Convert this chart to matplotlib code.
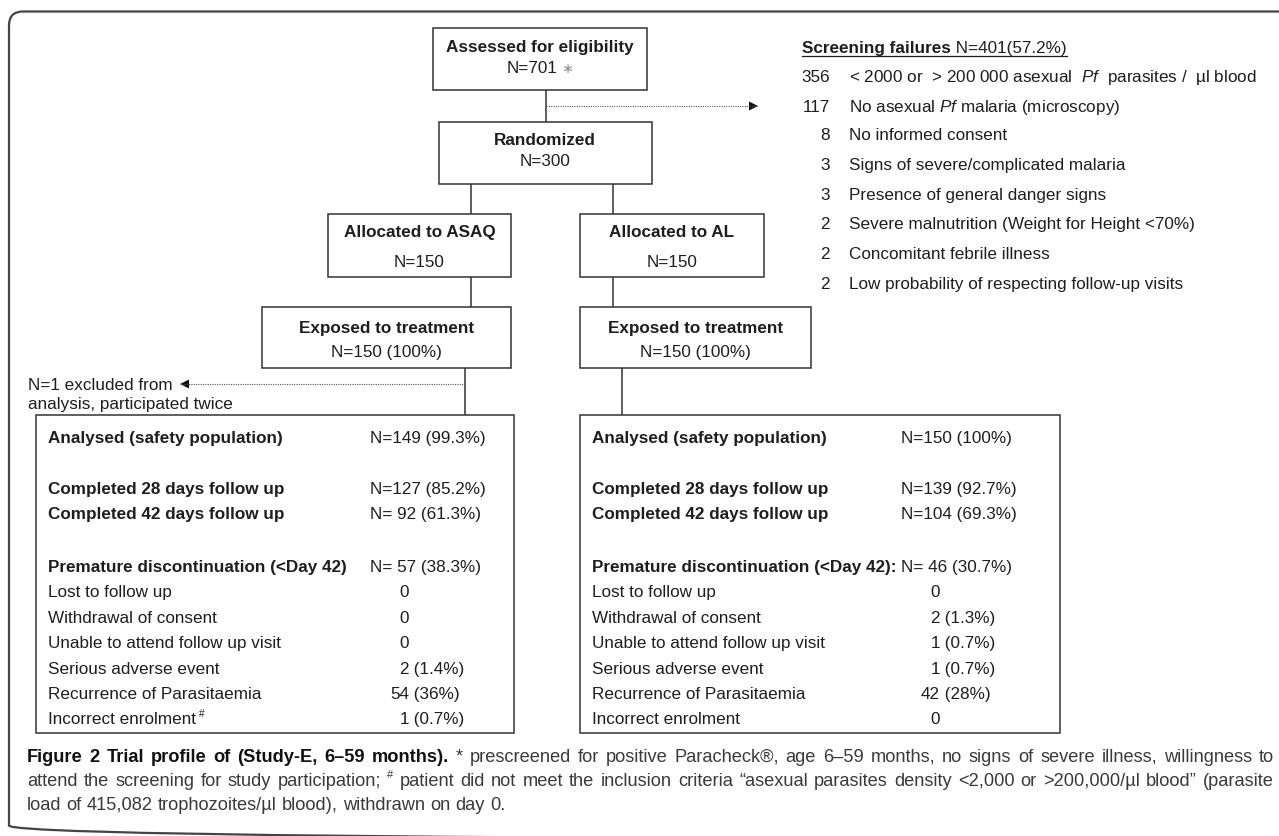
#!/usr/bin/env python3

import matplotlib

matplotlib.use('Agg')

from matplotlib import pyplot as plt
from matplotlib.patches import Rectangle, FancyBboxPatch, Polygon

plt.rcParams['font.family'] = ['Liberation Sans', 'DejaVu Sans']
plt.rcParams['mathtext.fontset'] = 'custom'
plt.rcParams['mathtext.rm'] = 'Liberation Sans'
plt.rcParams['mathtext.it'] = 'Liberation Sans:italic'
plt.rcParams['mathtext.bf'] = 'Liberation Sans:bold'

# ---- data ----
assessed_n = 701
randomized_n = 300
fail_n = 401
fail_pct = 57.2
fail_counts = [356, 117, 8, 3, 3, 2, 2, 2]
fail_reasons = [
    r'< 2000 or  > 200 000 asexual  $\it{Pf}$  parasites /  µl blood',
    r'No asexual $\it{Pf}$ malaria (microscopy)',
    'No informed consent',
    'Signs of severe/complicated malaria',
    'Presence of general danger signs',
    'Severe malnutrition (Weight for Height <70%)',
    'Concomitant febrile illness',
    'Low probability of respecting follow-up visits',
]
arms = ['ASAQ', 'AL']
allocated_n = [150, 150]
exposed_n = [150, 150]
exposed_pct = ['100%', '100%']
excluded_n = 1

summary_labels = ['Analysed (safety population)', 'Completed 28 days follow up',
                  'Completed 42 days follow up']
summary_asaq = ['N=149 (99.3%)', 'N=127 (85.2%)', 'N= 92 (61.3%)']
summary_al = ['N=150 (100%)', 'N=139 (92.7%)', 'N=104 (69.3%)']
premature_label = ['Premature discontinuation (<Day 42)', 'Premature discontinuation (<Day 42):']
premature_n = ['N= 57 (38.3%)', 'N= 46 (30.7%)']
reason_labels = ['Lost to follow up', 'Withdrawal of consent', 'Unable to attend follow up visit',
                 'Serious adverse event', 'Recurrence of Parasitaemia', 'Incorrect enrolment']
reason_asaq = [(0, ''), (0, ''), (0, ''), (2, '1.4%'), (54, '36%'), (1, '0.7%')]
reason_al = [(0, ''), (2, '1.3%'), (1, '0.7%'), (1, '0.7%'), (42, '28%'), (0, '')]

caption_1 = [('Figure 2 Trial profile of (Study-E, 6–59 months).', 'bold'),
             (' * prescreened for positive Paracheck®, age 6–59 months, no signs of severe illness, '
              'willingness to', 'normal')]
caption_2 = [('attend the screening for study participation; ', 'normal'), ('#', 'sup'),
             (' patient did not meet the inclusion criteria “asexual parasites density <2,000 or '
              '>200,000/µl blood” (parasite', 'normal')]
caption_3 = [('load of 415,082 trophozoites/µl blood), withdrawn on day 0.', 'normal')]

W, H = 1279, 836
FS = 12.3
INK = '#1e1e1e'
EDGE = '#333333'

fig = plt.figure(figsize=(W / 100, H / 100), dpi=100)
ax = fig.add_axes([0, 0, 1, 1])
ax.set_xlim(0, W)
ax.set_ylim(H, 0)
ax.axis('off')
renderer = fig.canvas.get_renderer()


def rich(x, y, parts, ha='left', size=FS, color=INK, family=None):
    """parts: list of (text, style); y is the visual centre of the line."""
    base = y + size * 100 / 72 * 0.36
    texts = []
    for s, style in parts:
        kw = dict(fontsize=size, color=color, va='baseline', ha='left')
        if family:
            kw['family'] = family
        dy = 0
        if style == 'bold':
            kw['fontweight'] = 'bold'
        elif style == 'sup':
            kw['fontsize'] = size * 0.6
            dy = -size * 0.55
        elif style == 'star':
            kw['fontsize'] = size * 0.8
            kw['color'] = '#8a8a8a'
            kw['family'] = ['DejaVu Sans']
        t = ax.text(0, base + dy, s, **kw)
        texts.append(t)
    widths = [t.get_window_extent(renderer).width for t in texts]
    total = sum(widths)
    cx = x - total / 2 if ha == 'center' else (x - total if ha == 'right' else x)
    for t, w in zip(texts, widths):
        t.set_x(cx)
        cx += w
    return cx, texts


def box(x0, y0, x1, y1):
    ax.add_patch(Rectangle((x0, y0), x1 - x0, y1 - y0, fill=False, ec=EDGE, lw=1.1))


def vline(x, y0, y1):
    ax.plot([x, x], [y0, y1], color=EDGE, lw=1.1, solid_capstyle='butt')


def dotted(x0, x1, y):
    ax.plot([x0, x1], [y, y], color='#555555', lw=0.8, linestyle=(0, (1, 1.1)))
    d = 1 if x1 > x0 else -1
    ax.add_patch(Polygon([(x1, y), (x1 - d * 9, y - 4.5), (x1 - d * 9, y + 4.5)],
                         closed=True, color='#111111', lw=0))


# outer rounded frame (right and bottom edges fall just outside the page)
ax.add_patch(FancyBboxPatch((9, 11.5), 1400, 828, boxstyle='round,pad=0,rounding_size=14',
                            fill=False, ec='#444444', lw=1.6, clip_on=True))

# top of the flow
box(433, 28, 647, 90)
rich(540, 46, [('Assessed for eligibility', 'bold')], ha='center')
rich(540, 67, [('N=%d' % assessed_n, 'normal'), (' ∗', 'star')], ha='center')
vline(546, 90, 122)
dotted(546, 758, 106)

box(439, 122, 652, 184)
rich(545, 139, [('Randomized', 'bold')], ha='center')
rich(545, 160, [('N=%d' % randomized_n, 'normal')], ha='center')
vline(471, 184, 214)
vline(613, 184, 214)

# allocation / exposure boxes per arm
alloc_box = [(328, 511), (580, 764)]
expo_box = [(262, 511), (580, 811)]
link_x = [471, 613]
for i, arm in enumerate(arms):
    a0, a1 = alloc_box[i]
    box(a0, 214, a1, 277)
    rich((a0 + a1) / 2, 231, [('Allocated to ' + arm, 'bold')], ha='center')
    rich((a0 + a1) / 2, 261, [('N=%d' % allocated_n[i], 'normal')], ha='center')
    vline(link_x[i], 277, 307)
    e0, e1 = expo_box[i]
    box(e0, 307, e1, 368)
    rich((e0 + e1) / 2, 327, [('Exposed to treatment', 'bold')], ha='center')
    rich((e0 + e1) / 2, 351, [('N=%d (%s)' % (exposed_n[i], exposed_pct[i]), 'normal')],
         ha='center')

vline(465, 368, 415)
vline(622, 368, 415)
dotted(465, 180, 384)
rich(28, 384, [('N=%d excluded from' % excluded_n, 'normal')])
rich(28, 403, [('analysis, participated twice', 'normal')])

# outcome boxes
res_box = [(36, 514), (580, 1060)]
label_x = [48, 592]
value_x = [370, 901]
num_end = [409, 940]
summary_vals = [summary_asaq, summary_al]
reason_vals = [reason_asaq, reason_al]
summary_y = [437, 488, 513]
premature_y = 566
reason_y = [591, 617, 642, 668, 693, 718]
for i in range(2):
    r0, r1 = res_box[i]
    box(r0, 415, r1, 733)
    for lab, val, y in zip(summary_labels, summary_vals[i], summary_y):
        rich(label_x[i], y, [(lab, 'bold')])
        rich(value_x[i], y, [(val, 'normal')])
    rich(label_x[i], premature_y, [(premature_label[i], 'bold')])
    rich(value_x[i], premature_y, [(premature_n[i], 'normal')])
    for j, (lab, (n, pct), y) in enumerate(zip(reason_labels, reason_vals[i], reason_y)):
        parts = [(lab, 'normal')]
        if i == 0 and j == len(reason_labels) - 1:
            parts.append((' #', 'sup'))
        rich(label_x[i], y, parts)
        rich(num_end[i], y, [(str(n), 'normal')], ha='right')
        if pct:
            rich(num_end[i], y, [(' (%s)' % pct, 'normal')])

# screening failures list
end, _ = rich(802, 47, [('Screening failures', 'bold'),
                        (' N=%d(%.1f%%)' % (fail_n, fail_pct), 'normal')])
ax.plot([802, end], [56, 56], color=INK, lw=0.9)
fail_y = [76, 106, 134, 164, 194, 223, 253, 283]
for n, reason, y in zip(fail_counts, fail_reasons, fail_y):
    rich(830, y, [(str(n), 'normal')], ha='right')
    rich(849, y, [(reason, 'normal')])

# caption: justified between the two margins like the journal layout
CAP_L, CAP_R = 27, 1274
cap_lines = [caption_1, caption_2, caption_3]
cap_y = [755, 779, 803]


def cap_color(style):
    return '#111111' if style == 'bold' else '#3a3a3a'


probe_w = []
for parts in cap_lines[:2]:
    e, ts = rich(0, -200, parts, size=12.0)
    probe_w.append(e)
    for t in ts:
        t.remove()
cap_size = 12.0 * (CAP_R - CAP_L) / max(probe_w) * 0.985

for k, (parts, y) in enumerate(zip(cap_lines, cap_y)):
    tokens = []
    for s, style in parts:
        if style == 'sup':
            tokens.append((s, style))
        else:
            tokens += [(w, style) for w in s.split(' ') if w]
    drawn = []
    for w, style in tokens:
        e, ts = rich(0, y, [(w, style)], size=cap_size, color=cap_color(style))
        drawn.append((ts[0], e))
    total = sum(e for _, e in drawn)
    if k < 2:
        gap = (CAP_R - CAP_L - total) / (len(drawn) - 1)
    else:
        gap = cap_size * 100 / 72 * 0.278
    cx = CAP_L
    for t, e in drawn:
        t.set_x(cx)
        cx += e + gap

fig.savefig('out.png', dpi=100)
plt.close('all')
